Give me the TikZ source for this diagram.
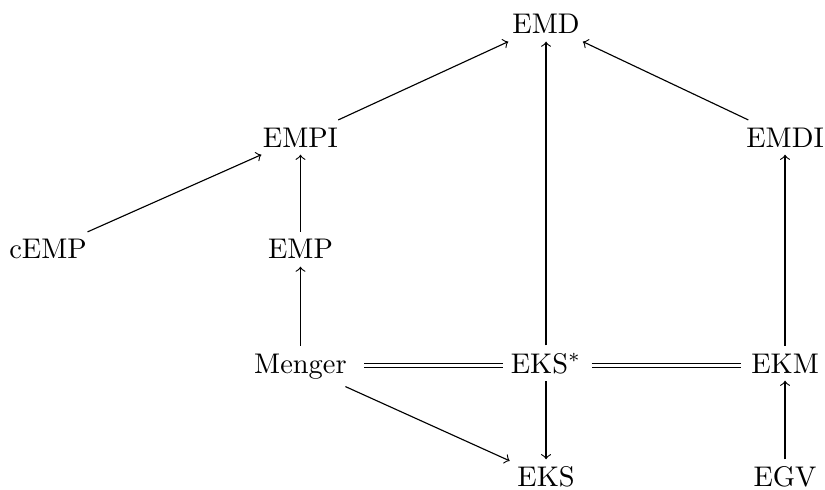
\documentclass[tikz,border=0pt]{standalone}
\begin{document}
\begin{tikzpicture}[every node/.style={anchor=base, inner sep=2.5pt}]
    \useasboundingbox (0,0) rectangle (10.2,6.046);

    % top row
    \node (emd) at (6.751,5.626) {EMD};

    % second row
    \node (empi) at (3.715,4.228) {EMPI};
    \node (emdi) at (9.706,4.228) {EMDI};

    % third row
    \node (cemp) at (0.594,2.844) {cEMP};
    \node (emp) at (3.715,2.844) {EMP};

    % fourth row
    \node (menger) at (3.715,1.434) {Menger};
    \node (eksstar) at (6.751,1.434) {EKS$^*$};
    \node (ekm) at (9.706,1.434) {EKM};

    % bottom row
    \node (eks) at (6.751,0.025) {EKS};
    \node (egv) at (9.706,0.025) {EGV};

    % implications
    \draw[->] (menger) -- (emp);
    \draw[->] (emp) -- (empi);
    \draw[->] (cemp) -- (empi);
    \draw[->] (empi) -- (emd);
    \draw[->] (eksstar) -- (emd);
    \draw[->] (emdi) -- (emd);
    \draw[->] (ekm) -- (emdi);
    \draw[->] (egv) -- (ekm);
    \draw[->] (eksstar) -- (eks);
    \draw[->] (menger) -- (eks);

    % equivalences
    \draw[double, double distance=1pt, shorten <=3.5pt]
      ([yshift=2.5pt]menger.base east) -- ([yshift=2.5pt]eksstar.base west);
    \draw[double, double distance=1pt, shorten <=1pt, shorten >=1pt]
      ([yshift=2.5pt]eksstar.base east) -- ([yshift=2.5pt]ekm.base west);
\end{tikzpicture}
\end{document}
